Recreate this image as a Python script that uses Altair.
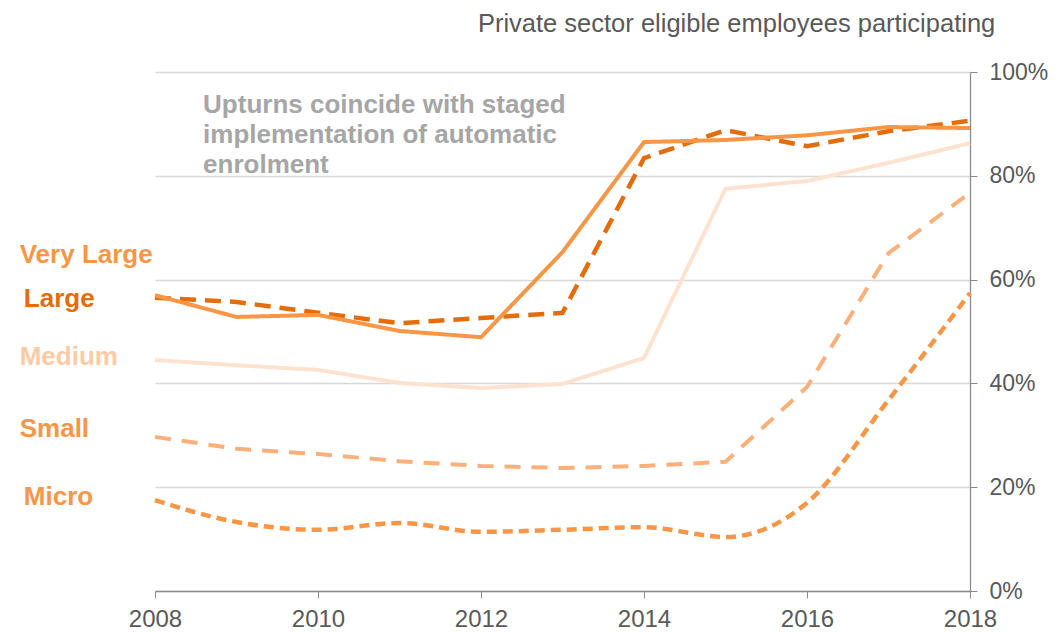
import altair as alt
import pandas as pd

years = list(range(2008, 2019))
very_large = [57.0, 52.8, 53.2, 50.1, 48.9, 65.3, 86.5, 86.9, 87.8, 89.4, 89.2]
large = [56.5, 55.7, 53.6, 51.6, 52.6, 53.6, 83.4, 88.8, 85.7, 88.6, 90.6]
medium = [44.5, 43.5, 42.6, 40.1, 39.1, 39.9, 44.9, 77.5, 79.0, 82.5, 86.3]
small = [29.7, 27.4, 26.4, 25.0, 24.1, 23.7, 24.1, 24.9, 39.3, 65.1, 76.7]
micro = [17.5, 13.3, 11.8, 13.1, 11.4, 11.8, 12.3, 10.4, 17.0, 36.8, 57.4]

series_names = ["Very Large", "Large", "Medium", "Small", "Micro"]
series_values = [very_large, large, medium, small, micro]
line_colors = ["#F79646", "#E46C0A", "#FDE3CF", "#FBB07A", "#F79646"]
label_colors = ["#F79646", "#E46C0A", "#FBCBA5", "#F79646", "#F79646"]
dashes = [[1, 0], [16, 9], [1, 0], [16, 11], [10, 6]]
widths = [4, 4.5, 4, 4, 4.5]
interps = ["linear", "linear", "linear", "linear", "monotone"]

label_x = [2006.34, 2006.39, 2006.34, 2006.34, 2006.39]
label_y = [63.2, 54.7, 43.5, 29.7, 16.6]

note_lines = ["Upturns coincide with staged", "implementation of automatic", "enrolment"]
note_x = [2008.59]
note_y = [92.1]

title_text = "Private sector eligible  employees participating"
title_x = [2018.31]
title_y = [107.7]

FONT = "Liberation Sans"
GREY = "#595959"

x_scale = alt.Scale(domain=[2008, 2018], nice=False, zero=False)
y_scale = alt.Scale(domain=[0, 100], nice=False)

layers = []
for name, vals, col, dash, w, interp in zip(series_names, series_values, line_colors, dashes, widths, interps):
    df = pd.DataFrame({"year": years, "value": vals, "series": name})
    layers.append(
        alt.Chart(df).mark_line(color=col, strokeDash=dash, strokeWidth=w, interpolate=interp,
                                strokeCap="butt").encode(
            x=alt.X("year:Q", scale=x_scale,
                    axis=alt.Axis(values=[2008, 2010, 2012, 2014, 2016, 2018], format="d", title=None,
                                  grid=False, labelFont=FONT, labelFontSize=24, labelColor=GREY,
                                  domainColor="#8C8C8C", tickColor="#8C8C8C", tickSize=7,
                                  labelPadding=9, domainWidth=1.3, labelFlush=False)),
            y=alt.Y("value:Q", scale=y_scale,
                    axis=alt.Axis(orient="right", values=[0, 20, 40, 60, 80, 100],
                                  labelExpr="datum.value + '%'", title=None, grid=True,
                                  gridColor="#D9D9D9", gridWidth=1.3, labelFont=FONT, labelFontSize=23,
                                  labelColor=GREY, domainColor="#8C8C8C", tickColor="#8C8C8C",
                                  tickSize=7, labelPadding=12, domainWidth=1.3, labelFlush=False)),
        )
    )

order = [2, 3, 4, 1, 0]
layers = [layers[i] for i in order]

labels_df = pd.DataFrame({"x": label_x, "y": label_y, "label": series_names, "color": label_colors})
labels = alt.Chart(labels_df).mark_text(font=FONT, fontSize=26, fontWeight="bold", align="left",
                                         baseline="alphabetic").encode(
    x=alt.X("x:Q", scale=x_scale),
    y=alt.Y("y:Q", scale=y_scale),
    text="label:N",
    color=alt.Color("color:N", scale=None),
)

note_df = pd.DataFrame({"x": note_x, "y": note_y, "t": ["\n".join(note_lines)]})
note = alt.Chart(note_df).mark_text(font=FONT, fontSize=26, fontWeight="bold", align="left",
                                     baseline="alphabetic", color="#A6A6A6", lineBreak="\n",
                                     lineHeight=30).encode(
    x=alt.X("x:Q", scale=x_scale),
    y=alt.Y("y:Q", scale=y_scale),
    text="t:N",
)

title_df = pd.DataFrame({"x": title_x, "y": title_y, "t": [title_text]})
title = alt.Chart(title_df).mark_text(font=FONT, fontSize=25.5, align="right", baseline="alphabetic",
                                      color=GREY).encode(
    x=alt.X("x:Q", scale=x_scale),
    y=alt.Y("y:Q", scale=y_scale),
    text="t:N",
)

chart = alt.layer(*layers, labels, note, title).properties(
    width=815, height=519,
    autosize=alt.AutoSizeParams(type="none"),
    padding={"left": 147, "top": 64, "right": 81, "bottom": 44},
).configure_view(stroke=None)

chart.save("out.html", embed_options={"renderer": "svg", "actions": False})
